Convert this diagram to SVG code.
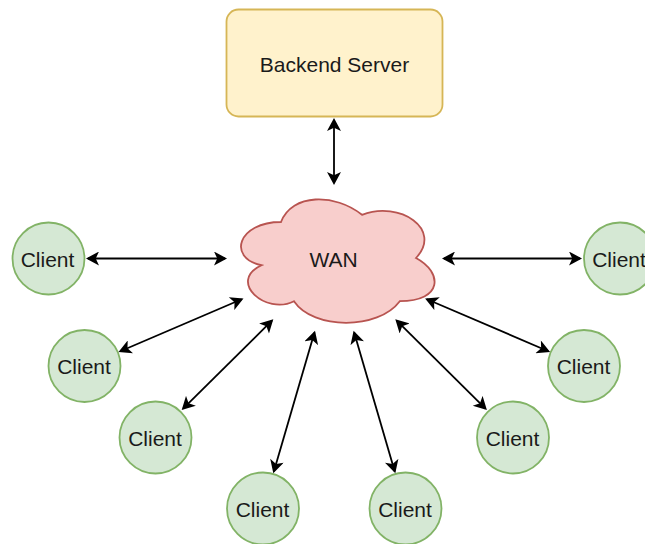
<svg xmlns="http://www.w3.org/2000/svg" width="645" height="544" viewBox="0 0 645 544">
<style>
.client circle{fill:#d5e8d4;stroke:#82b366;stroke-width:1.8}
text{font-family:"Liberation Sans",Arial,Helvetica,sans-serif;font-size:21px;fill:#1a1a1a;text-anchor:middle}
.conn line{stroke:#000;stroke-width:1.8;fill:none;marker-start:url(#arr);marker-end:url(#arr)}
</style>
<defs>
<marker id="arr" markerUnits="userSpaceOnUse" markerWidth="14" markerHeight="14" viewBox="0 0 13 14" refX="11" refY="7" orient="auto-start-reverse">
<path d="M0,0 L13,7 L0,14 L3.25,7 Z" fill="#000"/>
</marker>
</defs>
<rect width="645" height="544" fill="#fff"/>
<g id="backend">
<rect x="226.5" y="9.5" width="216" height="107" rx="12" ry="12" fill="#fff2cc" stroke="#d6b656" stroke-width="1.8"/>
<text x="334.5" y="71.5">Backend Server</text>
</g>
<g id="wan">
<path d="M281,222 C237.8,222 227,258 261.56,265.2 C227,281.04 265.88,315.6 293.96,301.2 C313.4,330 378.2,330 399.8,301.2 C443,301.2 443,272.4 416,258 C443,229.2 399.8,200.4 362,214.8 C335,193.2 291.8,193.2 281,222 Z" fill="#f8cecc" stroke="#b85450" stroke-width="1.8"/>
<text x="333.5" y="267">WAN</text>
</g>
<g id="client-l1" class="client"><circle cx="48.5" cy="258.5" r="36"/><text x="47.5" y="266.5">Client</text></g>
<g id="client-r1" class="client"><circle cx="620" cy="258.5" r="36"/><text x="619" y="266.5">Client</text></g>
<g id="client-l2" class="client"><circle cx="84.5" cy="366" r="36"/><text x="84" y="374">Client</text></g>
<g id="client-r2" class="client"><circle cx="584" cy="366" r="36"/><text x="583.5" y="374">Client</text></g>
<g id="client-l3" class="client"><circle cx="155.5" cy="437.5" r="36"/><text x="155" y="445.5">Client</text></g>
<g id="client-r3" class="client"><circle cx="513" cy="437.5" r="36"/><text x="512.5" y="445.5">Client</text></g>
<g id="client-b1" class="client"><circle cx="263" cy="508.5" r="36"/><text x="262.5" y="516.5">Client</text></g>
<g id="client-b2" class="client"><circle cx="405.5" cy="508.5" r="36"/><text x="405" y="516.5">Client</text></g>
<g id="connectors" class="conn">
<line x1="334" y1="120" x2="334" y2="183"/>
<line x1="88" y1="258.5" x2="225" y2="258.5"/>
<line x1="444" y1="258.5" x2="580" y2="258.5"/>
<line x1="120.34" y1="351.21" x2="241.66" y2="299.29"/>
<line x1="548.26" y1="351.21" x2="426.94" y2="299.29"/>
<line x1="183.12" y1="408.59" x2="271.88" y2="320.71"/>
<line x1="485.48" y1="408.59" x2="396.72" y2="320.71"/>
<line x1="273.86" y1="471.38" x2="314.44" y2="332.62"/>
<line x1="394.74" y1="471.38" x2="354.16" y2="332.62"/>
</g>
</svg>
